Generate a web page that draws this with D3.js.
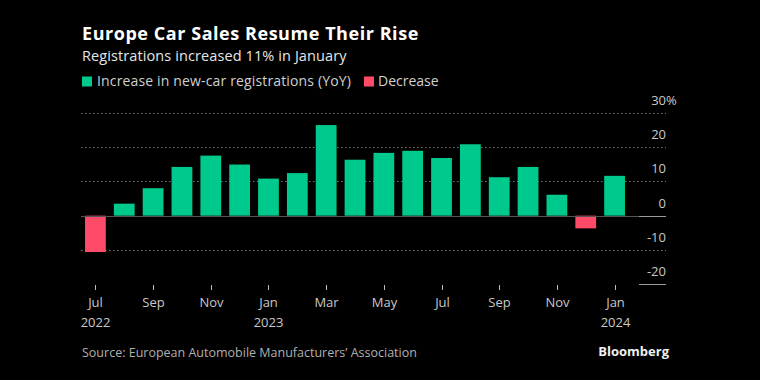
<!DOCTYPE html>
<html><head><meta charset="utf-8">
<script src="https://cdn.jsdelivr.net/npm/d3@7/dist/d3.min.js"></script>
<style>
html,body{margin:0;padding:0;background:#000;}
svg{display:block;}
text{font-family:"Open Sans","Noto Sans",sans-serif;}
</style></head>
<body>
<script>
const months = ["2022-07","2022-08","2022-09","2022-10","2022-11","2022-12","2023-01","2023-02","2023-03","2023-04","2023-05","2023-06","2023-07","2023-08","2023-09","2023-10","2023-11","2023-12","2024-01"];
const values = [-10.6, 3.5, 8.0, 14.2, 17.5, 14.9, 10.8, 12.4, 26.4, 16.3, 18.3, 18.9, 16.8, 20.8, 11.2, 14.2, 6.1, -3.7, 11.6];
const tickMonths = ["2022-07","2022-09","2022-11","2023-01","2023-03","2023-05","2023-07","2023-09","2023-11","2024-01"];
const tickLabels = ["Jul","Sep","Nov","Jan","Mar","May","Jul","Sep","Nov","Jan"];
const tickYears  = ["2022","","","2023","","","","","","2024"];
const yTicks = [30, 20, 10, 0, -10, -20];
const legendLabels = ["Increase in new-car registrations (YoY)", "Decrease"];

const W = 760, H = 380;
const svg = d3.select("body").append("svg").attr("width", W).attr("height", H);
svg.append("rect").attr("width", W).attr("height", H).attr("fill", "#000");

const green = "#00c98d", red = "#ff4a68";

const x = d3.scaleBand().domain(months).range([81, 629]).paddingInner(0.28).paddingOuter(0.14);
const y = d3.scaleLinear().domain([-20, 30]).range([284.3, 112.7]);

// title
svg.append("text").attr("x", 82).attr("y", 39.5).attr("fill", "#fff")
  .attr("font-size", 18).attr("font-weight", 700).attr("letter-spacing", 0.55).text("Europe Car Sales Resume Their Rise");
svg.append("text").attr("x", 82).attr("y", 60.5).attr("fill", "#e6e6e6")
  .attr("font-size", 14.5).attr("letter-spacing", 0.1).text("Registrations increased 11% in January");

// legend
const lg = svg.append("g");
lg.append("rect").attr("x", 82).attr("y", 76.5).attr("width", 10).attr("height", 10).attr("fill", green);
lg.append("text").attr("x", 97).attr("y", 86).attr("fill", "#d0d0d0").attr("font-size", 14).attr("letter-spacing", 0.15).text(legendLabels[0]);
lg.append("rect").attr("x", 364).attr("y", 76.5).attr("width", 10).attr("height", 10).attr("fill", red);
lg.append("text").attr("x", 378).attr("y", 86).attr("fill", "#d0d0d0").attr("font-size", 14).text(legendLabels[1]);

// gridlines
const grid = svg.append("g");
yTicks.filter(t => t !== 0 && t !== -20).forEach(t => {
  grid.append("line").attr("x1", 81).attr("x2", 666).attr("y1", Math.round(y(t)) + 0.5).attr("y2", Math.round(y(t)) + 0.5)
    .attr("stroke", "#777").attr("stroke-width", 1).attr("stroke-dasharray", "1.5,2.5");
});
// -20 short line
grid.append("line").attr("x1", 639).attr("x2", 666).attr("y1", Math.round(y(-20)) + 0.5).attr("y2", Math.round(y(-20)) + 0.5)
  .attr("stroke", "#999").attr("stroke-width", 1);

// y labels
const yl = svg.append("g");
yTicks.forEach(t => {
  yl.append("text").attr("x", 666).attr("y", y(t) - 8).attr("text-anchor", "end")
    .attr("fill", "#c8c8c8").attr("font-size", 13).text(t < 0 ? "-" + Math.abs(t) : String(t));
  if (t === 30) {
    yl.append("text").attr("x", 666).attr("y", y(t) - 8).attr("fill", "#c8c8c8").attr("font-size", 13).text("%");
  }
});

// bars
svg.append("g").selectAll("rect").data(values).join("rect")
  .attr("x", (d, i) => x(months[i]))
  .attr("width", x.bandwidth())
  .attr("y", d => d >= 0 ? y(d) : y(0))
  .attr("height", d => Math.abs(y(d) - y(0)))
  .attr("fill", d => d >= 0 ? green : red);

// zero line
svg.append("line").attr("x1", 81).attr("x2", 639).attr("y1", Math.round(y(0)) + 0.5).attr("y2", Math.round(y(0)) + 0.5)
  .attr("stroke", "#555").attr("stroke-width", 1);
svg.append("line").attr("x1", 639).attr("x2", 666).attr("y1", Math.round(y(0)) + 0.5).attr("y2", Math.round(y(0)) + 0.5)
  .attr("stroke", "#999").attr("stroke-width", 1);

// x axis ticks
const xa = svg.append("g");
tickMonths.forEach((m, i) => {
  const cx = Math.round(x(m) + x.bandwidth() / 2) + 0.5;
  xa.append("line").attr("x1", cx).attr("x2", cx).attr("y1", 285).attr("y2", 290).attr("stroke", "#bbb");
  xa.append("text").attr("x", cx).attr("y", 307).attr("text-anchor", "middle").attr("fill", "#c8c8c8")
    .attr("font-size", 13).text(tickLabels[i]);
  if (tickYears[i]) xa.append("text").attr("x", cx).attr("y", 327).attr("text-anchor", "middle").attr("fill", "#c8c8c8")
    .attr("font-size", 13).text(tickYears[i]);
});

// footer
svg.append("text").attr("x", 82).attr("y", 357).attr("fill", "#b0b0b0").attr("font-size", 12.5)
  .text("Source: European Automobile Manufacturers\u2019 Association");
svg.append("text").attr("x", 669).attr("y", 356).attr("text-anchor", "end").attr("fill", "#f0f0f0")
  .attr("font-size", 13).attr("font-weight", 700).text("Bloomberg");
</script>
</body></html>
